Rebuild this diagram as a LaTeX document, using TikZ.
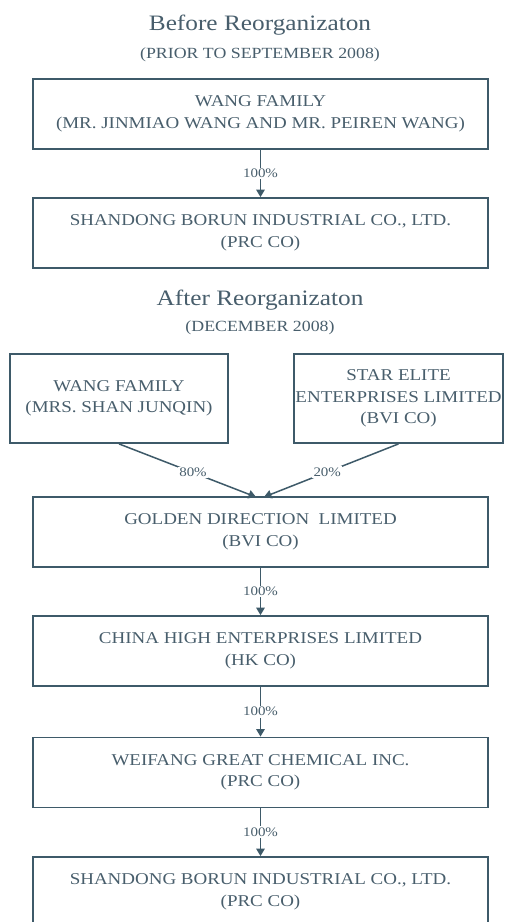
\documentclass[tikz,border=0pt]{standalone}
\usepackage{fontspec}
\setmainfont[FakeStretch=1.15]{Liberation Serif}
\usetikzlibrary{arrows.meta}
\definecolor{ink}{RGB}{62,90,105}
\definecolor{txt}{RGB}{72,94,108}
\begin{document}
\begin{tikzpicture}[x=1pt,y=-1pt,
  box/.style={draw=ink, line width=1.8pt, fill=white, text=txt, align=center,
    font=\fontsize{16.5}{21.5}\selectfont, inner sep=0pt},
  wide/.style={box, minimum width=455pt, minimum height=70pt},
  arr/.style={draw=ink, line width=1.5pt, -{Triangle[width=8.5pt,length=7.5pt]}},
  lbl/.style={fill=white, text=txt, font=\fontsize{13}{14}\selectfont, inner sep=1.5pt},
  ttl/.style={text=txt, font=\fontsize{22}{24}\selectfont},
  sub/.style={text=txt, font=\fontsize{15.5}{17}\selectfont}]
\useasboundingbox (0,0) rectangle (505,922);
\clip (0,0) rectangle (505,922);
\fill[white] (0,0) rectangle (505,922);

\node[ttl] (t1) at (260,25) {Before Reorganizaton};
\node[sub] (s1) at (260,55) {(PRIOR TO SEPTEMBER 2008)};
\node[wide] (b1) at (260.5,114) {WANG FAMILY\\(MR. JINMIAO WANG AND MR. PEIREN WANG)};
\node[wide] (b2) at (260.5,233) {SHANDONG BORUN INDUSTRIAL CO., LTD.\\(PRC CO)};
\draw[arr] (b1.south) -- node[lbl] {100\%} (b2.north);

\node[ttl] (t2) at (260,300) {After Reorganizaton};
\node[sub] (s2) at (260,328) {(DECEMBER 2008)};
\node[box, minimum width=218pt, minimum height=89pt] (l) at (119,398.5) {WANG FAMILY\\(MRS. SHAN JUNQIN)};
\node[box, minimum width=209pt, minimum height=89pt] (r) at (398.5,398.5) {STAR ELITE\\ENTERPRISES LIMITED\\(BVI CO)};
\node[wide] (g) at (260.5,532) {GOLDEN DIRECTION\ \ LIMITED\\(BVI CO)};
\coordinate (g1) at (256,497);
\coordinate (g2) at (264,497);
\draw[arr] (l.south) -- node[lbl, pos=0.54] {80\%} (g1);
\draw[arr] (r.south) -- node[lbl, pos=0.53] {20\%} (g2);

\node[wide] (c) at (260.5,651) {CHINA HIGH ENTERPRISES LIMITED\\(HK CO)};
\node[wide] (w) at (260.5,772.5) {WEIFANG GREAT CHEMICAL INC.\\(PRC CO)};
\node[wide] (s) at (260.5,892) {SHANDONG BORUN INDUSTRIAL CO., LTD.\\(PRC CO)};
\draw[arr] (g.south) -- node[lbl] {100\%} (c.north);
\draw[arr] (c.south) -- node[lbl] {100\%} (w.north);
\draw[arr] (w.south) -- node[lbl] {100\%} (s.north);
\end{tikzpicture}
\end{document}
